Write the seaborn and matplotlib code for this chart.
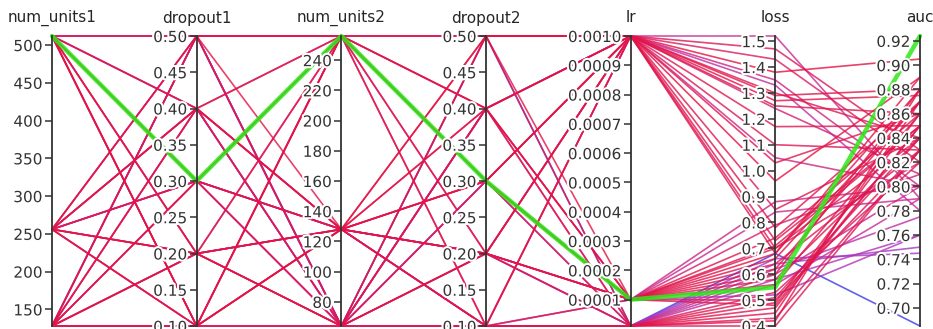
import numpy as np
import pandas as pd
import seaborn as sns
import matplotlib.pyplot as plt
from matplotlib import patheffects
from matplotlib.colors import LinearSegmentedColormap
from matplotlib.ticker import MultipleLocator, FormatStrFormatter

# one entry per tuner trial
num_units1 = [512, 256, 128, 512, 256, 128, 512, 256, 128, 512, 256, 128, 512, 256, 128, 512, 256, 128, 512, 256, 128,
              512, 512, 256, 128, 512, 256, 128, 512, 256, 128, 256, 512, 128, 256, 512, 128, 256,
              128, 128, 256, 512, 128, 256, 512, 128, 256, 512, 128, 256, 128, 512, 256]
dropout1 = [0.5, 0.4, 0.2, 0.1, 0.3, 0.5, 0.4, 0.2, 0.3, 0.2, 0.1, 0.4, 0.3, 0.5, 0.1, 0.5, 0.4, 0.2, 0.1, 0.3, 0.5,
            0.3, 0.3, 0.2, 0.4, 0.2, 0.5, 0.3, 0.4, 0.1, 0.2, 0.3, 0.1, 0.5, 0.4, 0.5, 0.1, 0.2,
            0.1, 0.5, 0.3, 0.4, 0.2, 0.4, 0.1, 0.3, 0.1, 0.2, 0.4, 0.5, 0.1, 0.3, 0.2]
num_units2 = [256, 128, 256, 128, 64, 64, 256, 128, 256, 64, 256, 128, 128, 64, 256, 128, 256, 64, 256, 128, 256,
              256, 256, 128, 64, 128, 256, 128, 64, 256, 128, 64, 128, 256, 128, 64, 128, 256,
              64, 64, 128, 64, 128, 64, 64, 64, 128, 64, 128, 64, 64, 128, 64]
dropout2 = [0.5, 0.4, 0.2, 0.5, 0.3, 0.4, 0.1, 0.3, 0.4, 0.2, 0.5, 0.1, 0.2, 0.4, 0.3, 0.5, 0.2, 0.5, 0.4, 0.1, 0.3,
            0.3, 0.3, 0.2, 0.4, 0.2, 0.4, 0.3, 0.2, 0.5, 0.2, 0.3, 0.4, 0.3, 0.2, 0.1, 0.3, 0.1,
            0.1, 0.5, 0.2, 0.3, 0.1, 0.4, 0.1, 0.2, 0.1, 0.5, 0.3, 0.2, 0.4, 0.1, 0.1]
lr = [1e-3] * 21 + [1e-4] * 17 + [1e-5] * 15
loss = [1.52, 1.47, 1.43, 1.38, 1.35, 1.33, 1.30, 1.29, 1.27, 1.25, 1.24, 1.17, 1.10, 1.05, 1.03, 0.96, 0.85, 0.78, 0.73, 0.70, 0.68,
        0.55, 0.62, 0.88, 0.84, 0.79, 0.74, 0.71, 0.70, 0.68, 0.66, 0.64, 0.60, 0.58, 0.56, 0.52, 0.50, 0.48,
        0.40, 0.68, 0.66, 0.64, 0.62, 0.60, 0.58, 0.56, 0.53, 0.51, 0.49, 0.47, 0.45, 0.43, 0.42]
auc = [0.79, 0.83, 0.82, 0.905, 0.80, 0.78, 0.84, 0.88, 0.875, 0.86, 0.81, 0.85, 0.83, 0.80, 0.86, 0.89, 0.84, 0.87, 0.85, 0.82, 0.88,
       0.924, 0.87, 0.80, 0.79, 0.81, 0.86, 0.85, 0.84, 0.89, 0.87, 0.83, 0.88, 0.84, 0.86, 0.76, 0.83, 0.85,
       0.83, 0.685, 0.745, 0.75, 0.775, 0.80, 0.76, 0.79, 0.82, 0.84, 0.86, 0.85, 0.87, 0.83, 0.88]

df = pd.DataFrame({'num_units1': num_units1, 'dropout1': dropout1, 'num_units2': num_units2,
                   'dropout2': dropout2, 'lr': lr, 'loss': loss, 'auc': auc})
cols = list(df.columns)
best = df['auc'].idxmax()

lo, hi = df.min(), df.max()
scaled = (df - lo) / (hi - lo)
long = scaled.reset_index().melt(id_vars='index', var_name='param', value_name='v')
long['pos'] = long['param'].map({c: i for i, c in enumerate(cols)})
long['score'] = long['index'].map(df['auc'])

cmap = LinearSegmentedColormap.from_list('trials', [(0, '#3b3be6'), (0.22, '#9a3ccc'), (0.42, '#c42c9c'),
                                                    (0.58, '#dc1858'), (1, '#e8103c')])

sns.set_theme(style='ticks')
fig = plt.figure(figsize=(9.33, 3.29), dpi=100)
host = fig.add_axes([52 / 933, 3 / 329, 868 / 933, 290 / 329])

sns.lineplot(data=long[long['index'] != best], x='pos', y='v', units='index', estimator=None,
             hue='score', palette=cmap, hue_norm=(lo['auc'], hi['auc']), legend=False, sort=False,
             lw=1.2, alpha=0.8, ax=host)
host.plot(range(len(cols)), scaled.loc[best], color='#2ee81a', lw=3.2, alpha=0.85, zorder=5)
for ln in host.lines:
    ln.set_clip_on(False)
host.set_xlim(0, len(cols) - 1)
host.set_ylim(0, 1)
host.axis('off')

steps = {'num_units1': 50, 'dropout1': 0.05, 'num_units2': 20, 'dropout2': 0.05,
         'lr': 0.0001, 'loss': 0.1, 'auc': 0.02}
fmts = {'num_units1': '%d', 'dropout1': '%.2f', 'num_units2': '%d', 'dropout2': '%.2f',
        'lr': '%.4f', 'loss': '%.1f', 'auc': '%.2f'}

axes = []
for i, c in enumerate(cols):
    ax = host.twinx()
    ax.set_ylim(lo[c], hi[c])
    for s in ['top', 'bottom', 'right']:
        ax.spines[s].set_visible(False)
    ax.spines['left'].set_visible(True)
    ax.spines['left'].set_position(('axes', i / (len(cols) - 1)))
    ax.spines['left'].set_linewidth(1.3)
    ax.spines['left'].set_color('#333333')
    ax.yaxis.set_ticks_position('left')
    ax.yaxis.set_major_locator(MultipleLocator(steps[c]))
    ax.yaxis.set_major_formatter(FormatStrFormatter(fmts[c]))
    ax.tick_params(axis='y', length=5, width=1.1, labelsize=11, colors='#333333', pad=2)
    ax.set_xticks([])
    ax.text(i / (len(cols) - 1), 1 + 18 / 290, c, transform=ax.transAxes, ha='center', va='center',
            fontsize=11, color='#262626')
    axes.append(ax)

fig.canvas.draw()
for ax in axes:
    for lab in ax.get_yticklabels():
        lab.set_path_effects([patheffects.withStroke(linewidth=3, foreground='white')])

fig.savefig('out.png', dpi=100)
